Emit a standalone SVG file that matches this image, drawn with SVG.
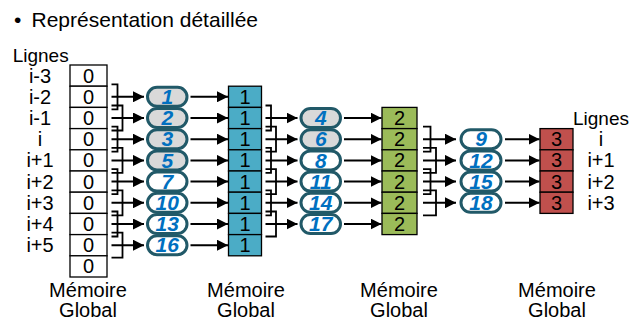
<svg xmlns="http://www.w3.org/2000/svg" width="630" height="320" viewBox="0 0 630 320">
<defs>
<marker id="ah" markerUnits="userSpaceOnUse" markerWidth="11" markerHeight="11" refX="10" refY="5" orient="auto" viewBox="0 0 10 10">
<path d="M0,0 L10,5 L0,10 z" fill="#000"/>
</marker>
<style>
text{font-family:"Liberation Sans",Arial,sans-serif;fill:#000}
.t{font-size:21px}
.lab{font-size:20px;text-anchor:middle}
.lg{font-size:19px}
.cell{stroke:#000;stroke-width:1.3}
.c0{fill:#fff}
.c1{fill:#4bacc6}
.c2{fill:#9bbb59}
.c3{fill:#c0504d}
.num{font-size:20px;text-anchor:middle}
.pill{stroke:#215968;stroke-width:3;fill:#fff}
.gray{fill:#d9d9d9}
.pn{font-size:21px;font-weight:bold;font-style:italic;fill:#0070c0;text-anchor:middle}
.br{fill:none;stroke:#000;stroke-width:1.8}
.ar{fill:none;stroke:#000;stroke-width:2;marker-end:url(#ah)}
</style>
</defs>
<rect width="630" height="320" fill="#fff"/>
<text class="t" x="14" y="27">• <tspan x="31.5">Représentation détaillée</tspan></text>

<g id="labels-left">
<text class="lg" x="12.7" y="62">Lignes</text>
<text class="lab" x="40" y="82.6">i-3</text>
<text class="lab" x="40" y="103.8">i-2</text>
<text class="lab" x="40" y="125">i-1</text>
<text class="lab" x="40" y="146.2">i</text>
<text class="lab" x="40" y="167.4">i+1</text>
<text class="lab" x="40" y="188.6">i+2</text>
<text class="lab" x="40" y="209.8">i+3</text>
<text class="lab" x="40" y="231">i+4</text>
<text class="lab" x="40" y="252.2">i+5</text>
</g>
<g id="labels-right">
<text class="lg" x="601" y="125" text-anchor="middle">Lignes</text>
<text class="lab" x="601" y="146.2">i</text>
<text class="lab" x="601" y="167.4">i+1</text>
<text class="lab" x="601" y="188.6">i+2</text>
<text class="lab" x="601" y="209.8">i+3</text>
</g>

<g id="mem0">
<rect class="cell c0" x="70" y="65" width="37" height="21.2"/>
<rect class="cell c0" x="70" y="86.2" width="37" height="21.2"/>
<rect class="cell c0" x="70" y="107.4" width="37" height="21.2"/>
<rect class="cell c0" x="70" y="128.6" width="37" height="21.2"/>
<rect class="cell c0" x="70" y="149.8" width="37" height="21.2"/>
<rect class="cell c0" x="70" y="171" width="37" height="21.2"/>
<rect class="cell c0" x="70" y="192.2" width="37" height="21.2"/>
<rect class="cell c0" x="70" y="213.4" width="37" height="21.2"/>
<rect class="cell c0" x="70" y="234.6" width="37" height="21.2"/>
<rect class="cell c0" x="70" y="255.8" width="37" height="21.2"/>
<text class="num" x="88.5" y="82.6">0</text>
<text class="num" x="88.5" y="103.8">0</text>
<text class="num" x="88.5" y="125">0</text>
<text class="num" x="88.5" y="146.2">0</text>
<text class="num" x="88.5" y="167.4">0</text>
<text class="num" x="88.5" y="188.6">0</text>
<text class="num" x="88.5" y="209.8">0</text>
<text class="num" x="88.5" y="231">0</text>
<text class="num" x="88.5" y="252.2">0</text>
<text class="num" x="88.5" y="273.4">0</text>
<text class="lab" x="88" y="297">Mémoire</text>
<text class="lab" x="88" y="317">Global</text>
</g>

<g id="mem1">
<rect class="cell c1" x="228.5" y="86.2" width="33" height="21.2"/>
<rect class="cell c1" x="228.5" y="107.4" width="33" height="21.2"/>
<rect class="cell c1" x="228.5" y="128.6" width="33" height="21.2"/>
<rect class="cell c1" x="228.5" y="149.8" width="33" height="21.2"/>
<rect class="cell c1" x="228.5" y="171" width="33" height="21.2"/>
<rect class="cell c1" x="228.5" y="192.2" width="33" height="21.2"/>
<rect class="cell c1" x="228.5" y="213.4" width="33" height="21.2"/>
<rect class="cell c1" x="228.5" y="234.6" width="33" height="21.2"/>
<text class="num" x="245" y="103.8">1</text>
<text class="num" x="245" y="125">1</text>
<text class="num" x="245" y="146.2">1</text>
<text class="num" x="245" y="167.4">1</text>
<text class="num" x="245" y="188.6">1</text>
<text class="num" x="245" y="209.8">1</text>
<text class="num" x="245" y="231">1</text>
<text class="num" x="245" y="252.2">1</text>
<text class="lab" x="246" y="297">Mémoire</text>
<text class="lab" x="246" y="317">Global</text>
</g>

<g id="mem2">
<rect class="cell c2" x="382" y="107.4" width="35" height="21.2"/>
<rect class="cell c2" x="382" y="128.6" width="35" height="21.2"/>
<rect class="cell c2" x="382" y="149.8" width="35" height="21.2"/>
<rect class="cell c2" x="382" y="171" width="35" height="21.2"/>
<rect class="cell c2" x="382" y="192.2" width="35" height="21.2"/>
<rect class="cell c2" x="382" y="213.4" width="35" height="21.2"/>
<text class="num" x="399.5" y="125">2</text>
<text class="num" x="399.5" y="146.2">2</text>
<text class="num" x="399.5" y="167.4">2</text>
<text class="num" x="399.5" y="188.6">2</text>
<text class="num" x="399.5" y="209.8">2</text>
<text class="num" x="399.5" y="231">2</text>
<text class="lab" x="399" y="297">Mémoire</text>
<text class="lab" x="399" y="317">Global</text>
</g>

<g id="mem3">
<rect class="cell c3" x="540" y="128.6" width="33" height="21.2"/>
<rect class="cell c3" x="540" y="149.8" width="33" height="21.2"/>
<rect class="cell c3" x="540" y="171" width="33" height="21.2"/>
<rect class="cell c3" x="540" y="192.2" width="33" height="21.2"/>
<text class="num" x="556.5" y="146.2">3</text>
<text class="num" x="556.5" y="167.4">3</text>
<text class="num" x="556.5" y="188.6">3</text>
<text class="num" x="556.5" y="209.8">3</text>
<text class="lab" x="557" y="297">Mémoire</text>
<text class="lab" x="557" y="317">Global</text>
</g>

<g id="connectors">
<path class="br" d="M111.5,84.3 H117.5 V109.3 H111.5"/>
<path class="br" d="M111.5,105.5 H122.5 V130.5 H111.5"/>
<path class="br" d="M111.5,126.7 H117.5 V151.7 H111.5"/>
<path class="br" d="M111.5,147.9 H122.5 V172.9 H111.5"/>
<path class="br" d="M111.5,169.1 H117.5 V194.1 H111.5"/>
<path class="br" d="M111.5,190.3 H122.5 V215.3 H111.5"/>
<path class="br" d="M111.5,211.5 H117.5 V236.5 H111.5"/>
<path class="br" d="M111.5,232.7 H122.5 V257.7 H111.5"/>
<path class="ar" d="M111.5,96.8 H144"/>
<path class="ar" d="M111.5,118 H144"/>
<path class="ar" d="M111.5,139.2 H144"/>
<path class="ar" d="M111.5,160.4 H144"/>
<path class="ar" d="M111.5,181.6 H144"/>
<path class="ar" d="M111.5,202.8 H144"/>
<path class="ar" d="M111.5,224 H144"/>
<path class="ar" d="M111.5,245.2 H144"/>
<path class="ar" d="M190.5,96.8 H228"/>
<path class="ar" d="M190.5,118 H228"/>
<path class="ar" d="M190.5,139.2 H228"/>
<path class="ar" d="M190.5,160.4 H228"/>
<path class="ar" d="M190.5,181.6 H228"/>
<path class="ar" d="M190.5,202.8 H228"/>
<path class="ar" d="M190.5,224 H228"/>
<path class="ar" d="M190.5,245.2 H228"/>
<path class="br" d="M265.5,105.5 H271 V130.5 H265.5"/>
<path class="br" d="M265.5,126.7 H276 V151.7 H265.5"/>
<path class="br" d="M265.5,147.9 H271 V172.9 H265.5"/>
<path class="br" d="M265.5,169.1 H276 V194.1 H265.5"/>
<path class="br" d="M265.5,190.3 H271 V215.3 H265.5"/>
<path class="br" d="M265.5,211.5 H276 V236.5 H265.5"/>
<path class="ar" d="M265.5,118 H297.5"/>
<path class="ar" d="M265.5,139.2 H297.5"/>
<path class="ar" d="M265.5,160.4 H297.5"/>
<path class="ar" d="M265.5,181.6 H297.5"/>
<path class="ar" d="M265.5,202.8 H297.5"/>
<path class="ar" d="M265.5,224 H297.5"/>
<path class="ar" d="M344,118 H381.5"/>
<path class="ar" d="M344,139.2 H381.5"/>
<path class="ar" d="M344,160.4 H381.5"/>
<path class="ar" d="M344,181.6 H381.5"/>
<path class="ar" d="M344,202.8 H381.5"/>
<path class="ar" d="M344,224 H381.5"/>
<path class="br" d="M423,126.7 H430.5 V151.7 H423"/>
<path class="br" d="M423,147.9 H436 V172.9 H423"/>
<path class="br" d="M423,169.1 H430.5 V194.1 H423"/>
<path class="br" d="M423,190.3 H436 V215.3 H423"/>
<path class="ar" d="M423,139.2 H456"/>
<path class="ar" d="M423,160.4 H456"/>
<path class="ar" d="M423,181.6 H456"/>
<path class="ar" d="M423,202.8 H456"/>
<path class="ar" d="M505,139.2 H539.5"/>
<path class="ar" d="M505,160.4 H539.5"/>
<path class="ar" d="M505,181.6 H539.5"/>
<path class="ar" d="M505,202.8 H539.5"/>
</g>

<g id="pass1">
<rect class="pill gray" x="147.5" y="87.3" width="39.5" height="19" rx="9.5"/>
<rect class="pill gray" x="147.5" y="108.5" width="39.5" height="19" rx="9.5"/>
<rect class="pill gray" x="147.5" y="129.7" width="39.5" height="19" rx="9.5"/>
<rect class="pill gray" x="147.5" y="150.9" width="39.5" height="19" rx="9.5"/>
<rect class="pill" x="147.5" y="172.1" width="39.5" height="19" rx="9.5"/>
<rect class="pill" x="147.5" y="193.3" width="39.5" height="19" rx="9.5"/>
<rect class="pill" x="147.5" y="214.5" width="39.5" height="19" rx="9.5"/>
<rect class="pill" x="147.5" y="235.7" width="39.5" height="19" rx="9.5"/>
<text class="pn" x="167.25" y="104">1</text>
<text class="pn" x="167.25" y="125.2">2</text>
<text class="pn" x="167.25" y="146.4">3</text>
<text class="pn" x="167.25" y="167.6">5</text>
<text class="pn" x="167.25" y="188.8">7</text>
<text class="pn" x="167.25" y="210">10</text>
<text class="pn" x="167.25" y="231.2">13</text>
<text class="pn" x="167.25" y="252.4">16</text>
</g>

<g id="pass2">
<rect class="pill gray" x="301" y="108.5" width="39.5" height="19" rx="9.5"/>
<rect class="pill gray" x="301" y="129.7" width="39.5" height="19" rx="9.5"/>
<rect class="pill" x="301" y="150.9" width="39.5" height="19" rx="9.5"/>
<rect class="pill" x="301" y="172.1" width="39.5" height="19" rx="9.5"/>
<rect class="pill" x="301" y="193.3" width="39.5" height="19" rx="9.5"/>
<rect class="pill" x="301" y="214.5" width="39.5" height="19" rx="9.5"/>
<text class="pn" x="320.75" y="125.2">4</text>
<text class="pn" x="320.75" y="146.4">6</text>
<text class="pn" x="320.75" y="167.6">8</text>
<text class="pn" x="320.75" y="188.8">11</text>
<text class="pn" x="320.75" y="210">14</text>
<text class="pn" x="320.75" y="231.2">17</text>
</g>

<g id="pass3">
<rect class="pill" x="461" y="129.7" width="40" height="19" rx="9.5"/>
<rect class="pill" x="461" y="150.9" width="40" height="19" rx="9.5"/>
<rect class="pill" x="461" y="172.1" width="40" height="19" rx="9.5"/>
<rect class="pill" x="461" y="193.3" width="40" height="19" rx="9.5"/>
<text class="pn" x="481" y="146.4">9</text>
<text class="pn" x="481" y="167.6">12</text>
<text class="pn" x="481" y="188.8">15</text>
<text class="pn" x="481" y="210">18</text>
</g>
</svg>
